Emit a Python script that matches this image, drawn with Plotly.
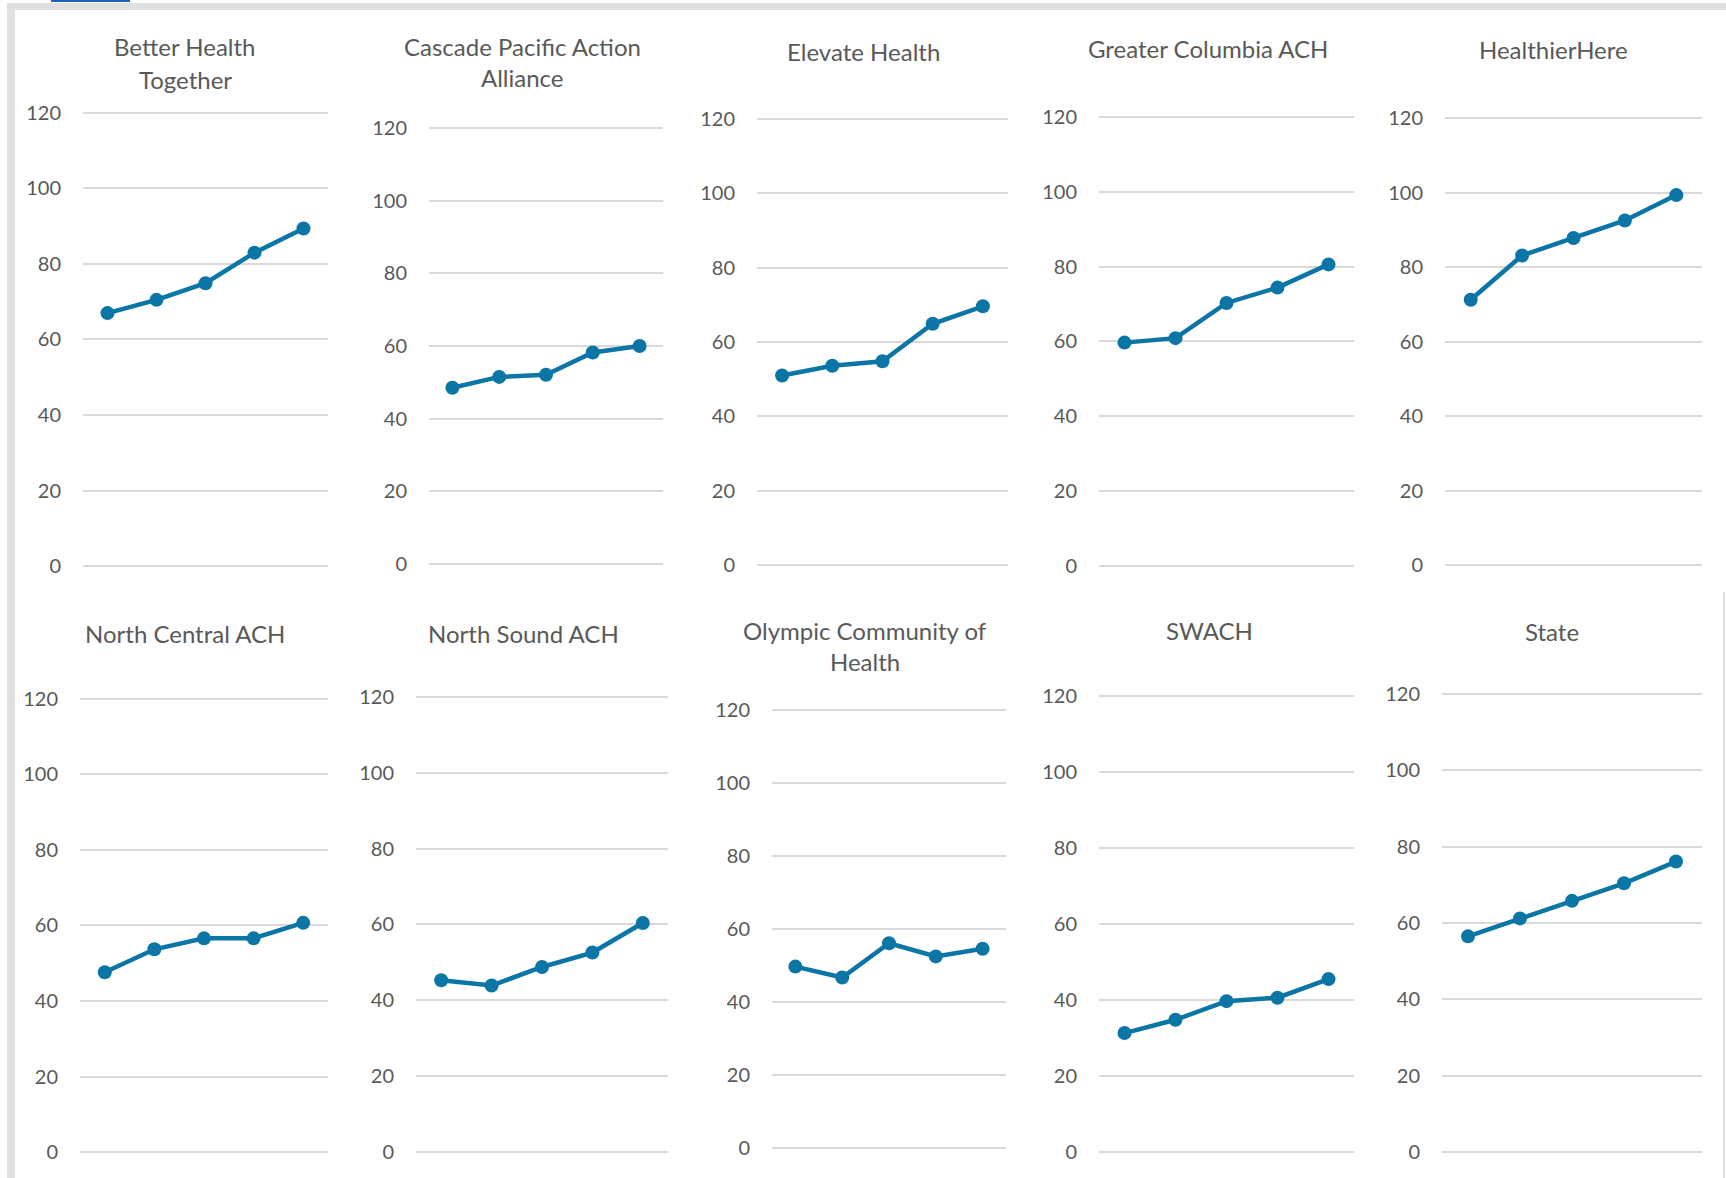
import plotly.graph_objects as go

W, H = 1726, 1178

# ---- data ----
points = [1, 2, 3, 4, 5]
regions = ["Better Health Together", "Cascade Pacific Action Alliance", "Elevate Health",
           "Greater Columbia ACH", "HealthierHere", "North Central ACH", "North Sound ACH",
           "Olympic Community of Health", "SWACH", "State"]
title_lines = [["Better Health", "Together"], ["Cascade Pacific Action", "Alliance"],
               ["Elevate Health"], ["Greater Columbia ACH"], ["HealthierHere"],
               ["North Central ACH"], ["North Sound ACH"], ["Olympic Community of", "Health"],
               ["SWACH"], ["State"]]
better_health_together = [67.0, 70.5, 74.9, 83.0, 89.4]
cascade_pacific = [48.5, 51.5, 52.1, 58.2, 60.0]
elevate_health = [51.0, 53.6, 54.8, 64.9, 69.6]
greater_columbia = [59.7, 60.9, 70.3, 74.4, 80.6]
healthier_here = [71.2, 83.1, 87.8, 92.5, 99.3]
north_central = [47.6, 53.7, 56.6, 56.6, 60.7]
north_sound = [45.3, 43.9, 48.8, 52.6, 60.4]
olympic = [49.7, 46.7, 56.1, 52.5, 54.6]
swach = [31.3, 34.8, 39.7, 40.6, 45.5]
state = [56.5, 61.2, 65.8, 70.4, 76.1]
series = [better_health_together, cascade_pacific, elevate_health, greater_columbia,
          healthier_here, north_central, north_sound, olympic, swach, state]
y_ticks = [0, 20, 40, 60, 80, 100, 120]
Y_MIN, Y_MAX = 0, 120

# ---- layout geometry (pixels): grid x-left, x-right, y of 120, y of 0 ----
boxes = [
    (83, 328, 113, 566), (429, 663, 128, 564), (757, 1008, 119, 565),
    (1099, 1354, 117, 566), (1445, 1702, 118, 565),
    (80, 328, 699, 1152), (416, 668, 697, 1152), (772, 1006, 710, 1148),
    (1099, 1354, 696, 1152), (1442, 1702, 694, 1152),
]
# title center x and middle y of each line
title_pos = [
    (185, [46, 79]), (522, [46, 78]), (863, [51]), (1208, [48]), (1553, [50]),
    (185, [633]), (523, [633]), (865, [630, 661]), (1209, [630]), (1552, [631]),
]

LINE = "#0b76a6"
TXT = "#595959"
GRID = "#d9d9d9"
FONT = "Lato, Carlito, Calibri, sans-serif"
PAD = 1.0  # data units of padding so the 0 and 120 gridlines are drawn

fig = go.Figure()
layout = dict(width=W, height=H, margin=dict(l=0, r=0, t=0, b=0, pad=0, autoexpand=False),
              paper_bgcolor="white", plot_bgcolor="rgba(0,0,0,0)",
              showlegend=False, font=dict(family=FONT, color=TXT))

annotations = []
for i, (name, vals) in enumerate(zip(regions, series)):
    n = i + 1
    xs = "x" if n == 1 else f"x{n}"
    ys = "y" if n == 1 else f"y{n}"
    fig.add_trace(go.Scatter(x=points, y=vals, name=name, mode="lines+markers",
                             line=dict(color=LINE, width=4.5),
                             marker=dict(color=LINE, size=14),
                             xaxis=xs, yaxis=ys, cliponaxis=False))
    xl, xr, yt, yb = boxes[i]
    ppu = (yb - yt) / (Y_MAX - Y_MIN)
    yb2, yt2 = yb + PAD * ppu, yt - PAD * ppu
    xkey = "xaxis" if n == 1 else f"xaxis{n}"
    ykey = "yaxis" if n == 1 else f"yaxis{n}"
    layout[xkey] = dict(domain=[xl / W, xr / W], range=[0.5, 5.5], showgrid=False,
                        zeroline=False, showticklabels=False, showline=False,
                        automargin=False, anchor=ys, fixedrange=True)
    layout[ykey] = dict(domain=[1 - yb2 / H, 1 - yt2 / H], range=[Y_MIN - PAD, Y_MAX + PAD],
                        tickvals=y_ticks, showgrid=True, gridcolor=GRID, gridwidth=2,
                        zeroline=False, showline=False, anchor=xs, automargin=False,
                        ticklabelstandoff=21, fixedrange=True,
                        tickfont=dict(family=FONT, size=20, color=TXT))
    cx, lys = title_pos[i]
    for txt, ly in zip(title_lines[i], lys):
        annotations.append(dict(text=txt, x=cx / W, y=1 - ly / H, xref="paper", yref="paper",
                                xanchor="center", yanchor="middle", showarrow=False,
                                font=dict(family=FONT, size=24, color=TXT)))

layout["annotations"] = annotations

FRAME = "#e0e0e0"
layout["shapes"] = [
    dict(type="rect", xref="paper", yref="paper", x0=7 / W, x1=1, y0=1 - 10 / H, y1=1 - 3 / H,
         fillcolor=FRAME, line=dict(width=0), layer="below"),
    dict(type="rect", xref="paper", yref="paper", x0=7 / W, x1=15 / W, y0=0, y1=1 - 3 / H,
         fillcolor=FRAME, line=dict(width=0), layer="below"),
    dict(type="rect", xref="paper", yref="paper", x0=51 / W, x1=130 / W, y0=1 - 2 / H, y1=1,
         fillcolor="#2060c0", line=dict(width=0), layer="below"),
    dict(type="line", xref="paper", yref="paper", x0=1724 / W, x1=1724 / W, y0=0, y1=1 - 592 / H,
         line=dict(color=FRAME, width=2), layer="below"),
]

fig.update_layout(**layout)
fig.write_html("out.html")
